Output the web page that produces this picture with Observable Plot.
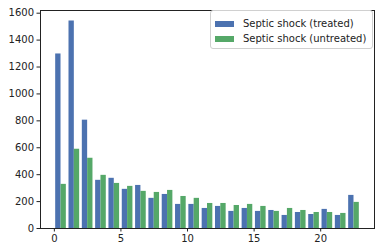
<!DOCTYPE html>
<html>
<head>
<meta charset="utf-8">
<script src="https://cdn.jsdelivr.net/npm/d3@7"></script>
<script src="https://cdn.jsdelivr.net/npm/@observablehq/plot@0.6"></script>
<style>
  html, body { margin: 0; padding: 0; background: #fff; }
  #wrap { position: relative; width: 384px; height: 252px; font-family: "DejaVu Sans", sans-serif; }
  #legend { position: absolute; left: 210px; top: 10px; width: 161px; height: 37px; border: 1px solid #d0d0d0; border-radius: 3px; background: rgba(255,255,255,0.8); font-size: 10px; color: #222; }
  .item { position: absolute; left: 4px; display: flex; align-items: center; white-space: nowrap; line-height: 12px; }
  .sw { width: 19px; height: 6px; margin-right: 9px; }
</style>
</head>
<body>
<div id="wrap"></div>
<script>
const bins = [0,1,2,3,4,5,6,7,8,9,10,11,12,13,14,15,16,17,18,19,20,21,22];
const treated = [1297,1542,805,358,373,291,320,224,253,179,179,149,164,127,149,127,134,97,119,104,142,97,246];
const untreated = [328,589,522,395,335,313,276,268,283,238,224,186,186,171,179,164,127,149,134,119,119,112,194];
const seriesNames = ["Septic shock (treated)", "Septic shock (untreated)"];
const colors = ["#4c72b0", "#55a868"];
const xTicks = [0,5,10,15,20];
const yTicks = [0,200,400,600,800,1000,1200,1400,1600];

const rows = [];
bins.forEach((b, i) => {
  rows.push({bin: b, s: 0, v: treated[i]});
  rows.push({bin: b, s: 1, v: untreated[i]});
});

const chart = Plot.plot({
  width: 384,
  height: 252,
  marginLeft: 40,
  marginRight: 10,
  marginTop: 10,
  marginBottom: 24,
  style: {fontFamily: "DejaVu Sans, sans-serif", fontSize: "10px", color: "#222", background: "#fff"},
  x: {domain: [-1.04, 24.04]},
  y: {domain: [0, 1620]},
  marks: [
    Plot.rectY(rows, {
      x1: d => d.bin + 0.1 + 0.4 * d.s,
      x2: d => d.bin + 0.5 + 0.4 * d.s,
      y1: 0,
      y2: "v",
      fill: d => colors[d.s]
    }),
    Plot.frame({stroke: "#222", strokeWidth: 1}),
    Plot.axisX({ticks: xTicks, tickSize: 3.5, tickPadding: 3, label: null, tickFormat: d => String(d)}),
    Plot.axisY({ticks: yTicks, tickSize: 3.5, tickPadding: 3, label: null, tickFormat: d => String(d)})
  ]
});

const wrap = document.getElementById("wrap");
wrap.appendChild(chart);
const lg = document.createElement("div");
lg.id = "legend";
seriesNames.forEach((n, i) => {
  const it = document.createElement("div");
  it.className = "item";
  it.style.top = (7 + i * 15) + "px";
  const sw = document.createElement("span");
  sw.className = "sw";
  sw.style.background = colors[i];
  const t = document.createElement("span");
  t.textContent = n;
  it.appendChild(sw);
  it.appendChild(t);
  lg.appendChild(it);
});
wrap.appendChild(lg);
</script>
</body>
</html>
